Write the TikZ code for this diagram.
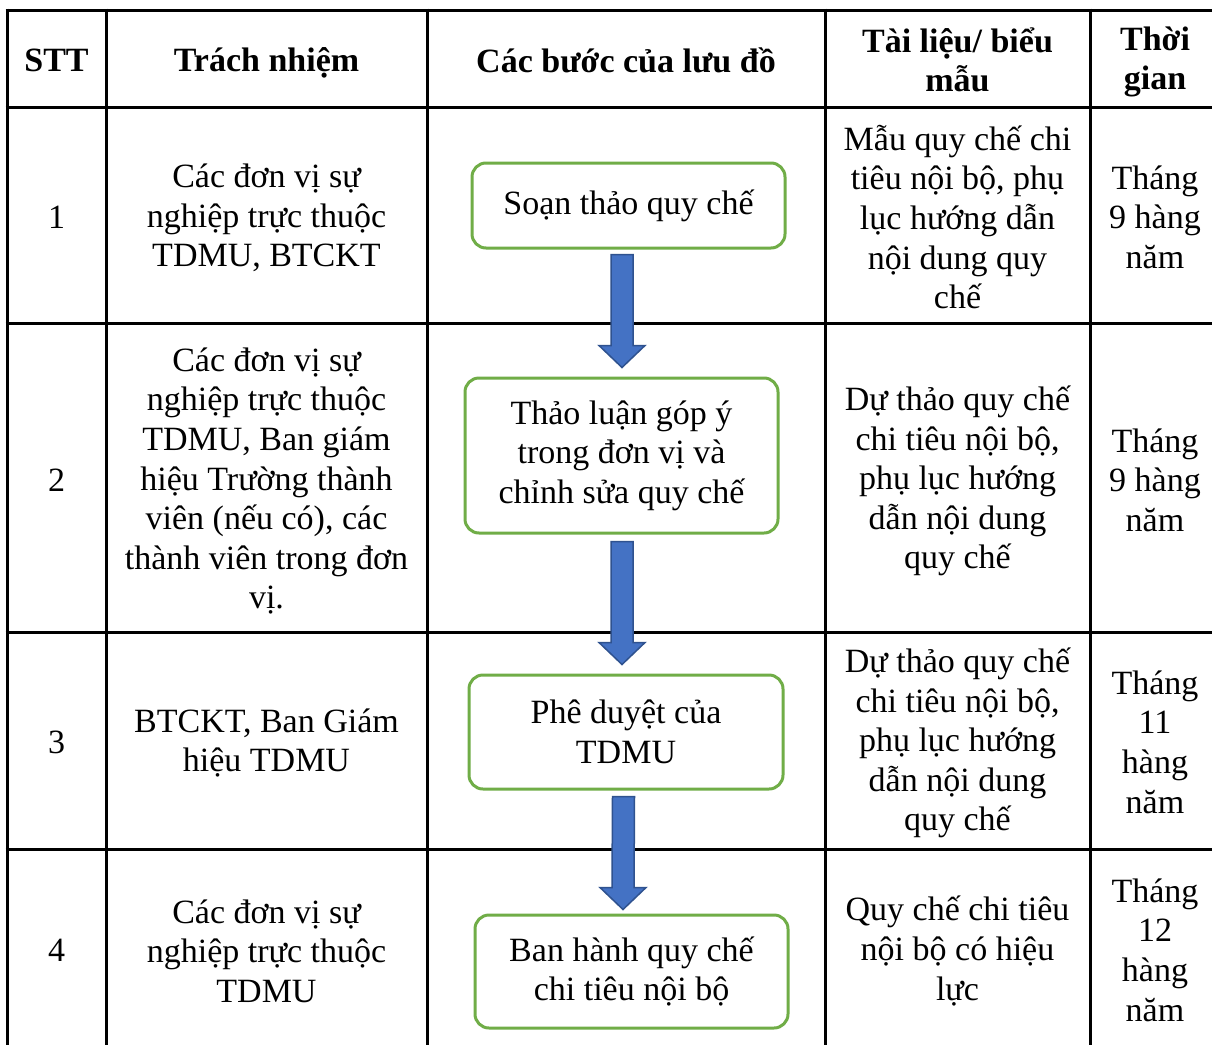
\documentclass[tikz,border=0pt]{standalone}
\usepackage{fontspec}
\setmainfont{Liberation Serif}
\usetikzlibrary{calc}
\definecolor{boxgreen}{HTML}{70AD47}
\definecolor{arrowblue}{HTML}{4472C4}
\definecolor{arrowedge}{HTML}{2F528F}
\newcommand\cellfont{\fontsize{34}{39.6}\selectfont}
\newcommand\blkarrow[2]{%
  \filldraw[blkarrowstyle] ($(#1)+(-11,0)$) -- ($(#1)+(11,0)$) -- ($(#2)+(11,-22)$) -- ($(#2)+(23,-22)$) -- (#2) -- ($(#2)+(-23,-22)$) -- ($(#2)+(-11,-22)$) -- cycle;}
\tikzset{
  grid/.style={line width=3pt, black},
  cell/.style={align=center, inner sep=0pt, font=\cellfont},
  head/.style={align=center, inner sep=0pt, font=\cellfont\bfseries},
  stepbox/.style={draw=boxgreen, line width=3pt, rounded corners=14pt, fill=white, align=center, inner sep=0pt, font=\cellfont},
  blkarrowstyle/.style={fill=arrowblue, draw=arrowedge, line width=1.5pt, line join=miter},
}
\begin{document}
\begin{tikzpicture}[x=1pt,y=-1pt]
\useasboundingbox (0,0) rectangle (1212,1044);
\fill[white] (0,0) rectangle (1212,1044);
\clip (0,0) rectangle (1212,1044);
% table grid
\foreach \yy in {10,107,323,632,849} \draw[grid] (5.5,\yy) -- (1230,\yy);
\foreach \xx in {7,106,427,825,1090,1220} \draw[grid] (\xx,8.5) -- (\xx,1070);
% header
\node[head] (h1) at (56.5,60) {STT};
\node[head] (h2) at (266.5,62.5) {Trách nhiệm};
\node[head] (h3) at (626,60) {Các bước của lưu đồ};
\node[head] (h4) at (957.5,60) {Tài liệu/ biểu\\mẫu};
\node[head] (h5) at (1155,62) {Thời\\gian};
% row 1
\node[cell] (n1) at (56.5,217) {1};
\node[cell] (r1) at (266.5,218) {Các đơn vị sự\\nghiệp trực thuộc\\TDMU, BTCKT};
\node[cell] (d1) at (957.5,217) {Mẫu quy chế chi\\tiêu nội bộ, phụ\\lục hướng dẫn\\nội dung quy\\chế};
\node[cell] (t1) at (1155,217) {Tháng\\9 hàng\\năm};
% row 2
\node[cell] (n2) at (56.5,480) {2};
\node[cell] (r2) at (266.5,481) {Các đơn vị sự\\nghiệp trực thuộc\\TDMU, Ban giám\\hiệu Trường thành\\viên (nếu có), các\\thành viên trong đơn\\vị.};
\node[cell] (d2) at (957.5,481) {Dự thảo quy chế\\chi tiêu nội bộ,\\phụ lục hướng\\dẫn nội dung\\quy chế};
\node[cell] (t2) at (1155,480) {Tháng\\9 hàng\\năm};
% row 3
\node[cell] (n3) at (56.5,742) {3};
\node[cell] (r3) at (266.5,743) {BTCKT, Ban Giám\\hiệu TDMU};
\node[cell] (d3) at (957.5,743) {Dự thảo quy chế\\chi tiêu nội bộ,\\phụ lục hướng\\dẫn nội dung\\quy chế};
\node[cell] (t3) at (1155,742) {Tháng\\11\\hàng\\năm};
% row 4
\node[cell] (n4) at (56.5,950) {4};
\node[cell] (r4) at (266.5,951) {Các đơn vị sự\\nghiệp trực thuộc\\TDMU};
\node[cell] (d4) at (957.5,951) {Quy chế chi tiêu\\nội bộ có hiệu\\lực};
\node[cell] (t4) at (1155,950) {Tháng\\12\\hàng\\năm};
% flow boxes
\node[stepbox, minimum width=313pt, minimum height=85pt] (b1) at (628.5,205.5) {Soạn thảo quy chế};
\node[stepbox, minimum width=313pt, minimum height=155pt] (b2) at (621.5,455.5) {Thảo luận góp ý\\trong đơn vị và\\chỉnh sửa quy chế};
\node[stepbox, minimum width=314pt, minimum height=114pt] (b3) at (626,732) {Phê duyệt của\\TDMU};
\node[stepbox, minimum width=313pt, minimum height=113pt] (b4) at (631.5,971.5) {Ban hành quy chế\\chi tiêu nội bộ};
% block arrows
\coordinate (a1s) at ($(b1.south)+(-6.5,5)$);
\coordinate (a1e) at ($(b2.north)+(0.5,-9)$);
\coordinate (a2s) at ($(b2.south)+(0.5,7)$);
\coordinate (a2e) at ($(b3.north)+(-4,-9)$);
\coordinate (a3s) at ($(b3.south)+(-2.5,6)$);
\coordinate (a3e) at ($(b4.north)+(-8.5,-4)$);
\blkarrow{a1s}{a1e}
\blkarrow{a2s}{a2e}
\blkarrow{a3s}{a3e}
\end{tikzpicture}
\end{document}
